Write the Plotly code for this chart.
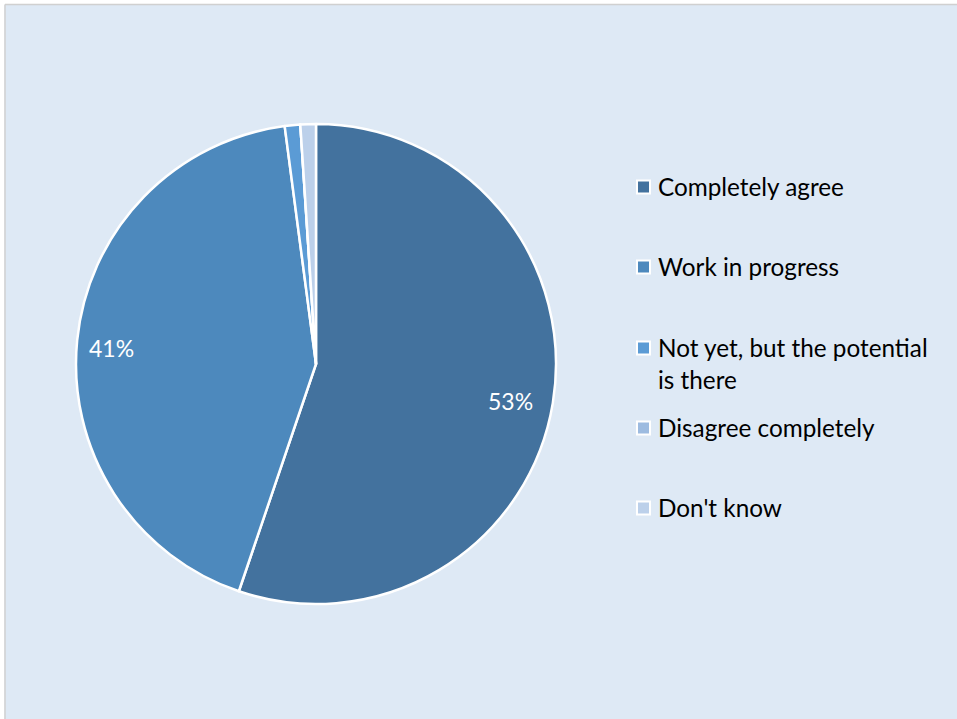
import math
import plotly.graph_objects as go

# Survey responses (percent of respondents)
categories = ["Completely agree", "Work in progress",
              "Not yet, but the potential is there",
              "Disagree completely", "Don't know"]
values = [53, 41, 1, 0, 1]
legend_labels = ["Completely agree", "Work in progress",
                 "Not yet, but the potential<br>is there",
                 "Disagree completely", "Don't know"]
colors = ["#43729e", "#4d89bd", "#5b9bd5", "#9dbbe0", "#bcd0ea"]

W, H = 957, 719
BG = "#dee9f5"
FONT = "Lato"

# pie placement in pixels (centre and radius)
CX, CY, R = 316, 364, 240
dom_x = [(CX - R) / W, (CX + R) / W]
dom_y = [(H - CY - R) / H, (H - CY + R) / H]

fig = go.Figure(go.Pie(
    labels=categories,
    values=values,
    sort=False,
    direction="clockwise",
    rotation=0,
    marker=dict(colors=colors, line=dict(color="white", width=2.5)),
    textinfo="none",
    domain=dict(x=dom_x, y=dom_y),
    showlegend=False,
    hoverinfo="label+value",
))

# value labels near the outer end of the two large slices
total = sum(values)
cum = 0
for v in values:
    mid = (cum + v / 2) / total * 2 * math.pi
    cum += v
    if v < 5:
        continue
    r = 0.84 * R
    px = CX + r * math.sin(mid) - 4
    py = CY - r * math.cos(mid) + 4
    fig.add_annotation(xref="paper", yref="paper", x=px / W, y=1 - py / H,
                       xanchor="center", yanchor="middle", showarrow=False,
                       text=f"{v}%", font=dict(family=FONT, size=23, color="white"))

# legend: small framed squares with text to their right
legend_y = [187, 267, 348, 428, 508]
for lab, col, yc in zip(legend_labels, colors, legend_y):
    fig.add_shape(type="rect", xref="paper", yref="paper",
                  x0=637 / W, x1=650 / W, y0=1 - (yc + 6.5) / H, y1=1 - (yc - 6.5) / H,
                  fillcolor=col, line=dict(color="white", width=2))
    fig.add_annotation(xref="paper", yref="paper", x=656 / W, y=1 - (yc - 17) / H,
                       xanchor="left", yanchor="top", align="left",
                       text=lab, showarrow=False,
                       font=dict(family=FONT, size=24.3, color="black"))

# outer frame: white strip with a thin grey border line
fig.add_shape(type="rect", xref="paper", yref="paper", x0=0, x1=1, y0=1 - 4.5 / H, y1=1,
              fillcolor="white", line=dict(width=0), layer="below")
fig.add_shape(type="rect", xref="paper", yref="paper", x0=0, x1=4.5 / W, y0=0, y1=1,
              fillcolor="white", line=dict(width=0), layer="below")
fig.add_shape(type="line", xref="paper", yref="paper", x0=5 / W, x1=1, y0=1 - 4.5 / H, y1=1 - 4.5 / H,
              line=dict(color="#d0d0d0", width=1.5))
fig.add_shape(type="line", xref="paper", yref="paper", x0=5 / W, x1=5 / W, y0=0, y1=1 - 4.5 / H,
              line=dict(color="#d0d0d0", width=1.5))

fig.update_layout(
    width=W, height=H,
    margin=dict(l=0, r=0, t=0, b=0),
    paper_bgcolor=BG,
    plot_bgcolor=BG,
)

fig.write_html("out.html")
